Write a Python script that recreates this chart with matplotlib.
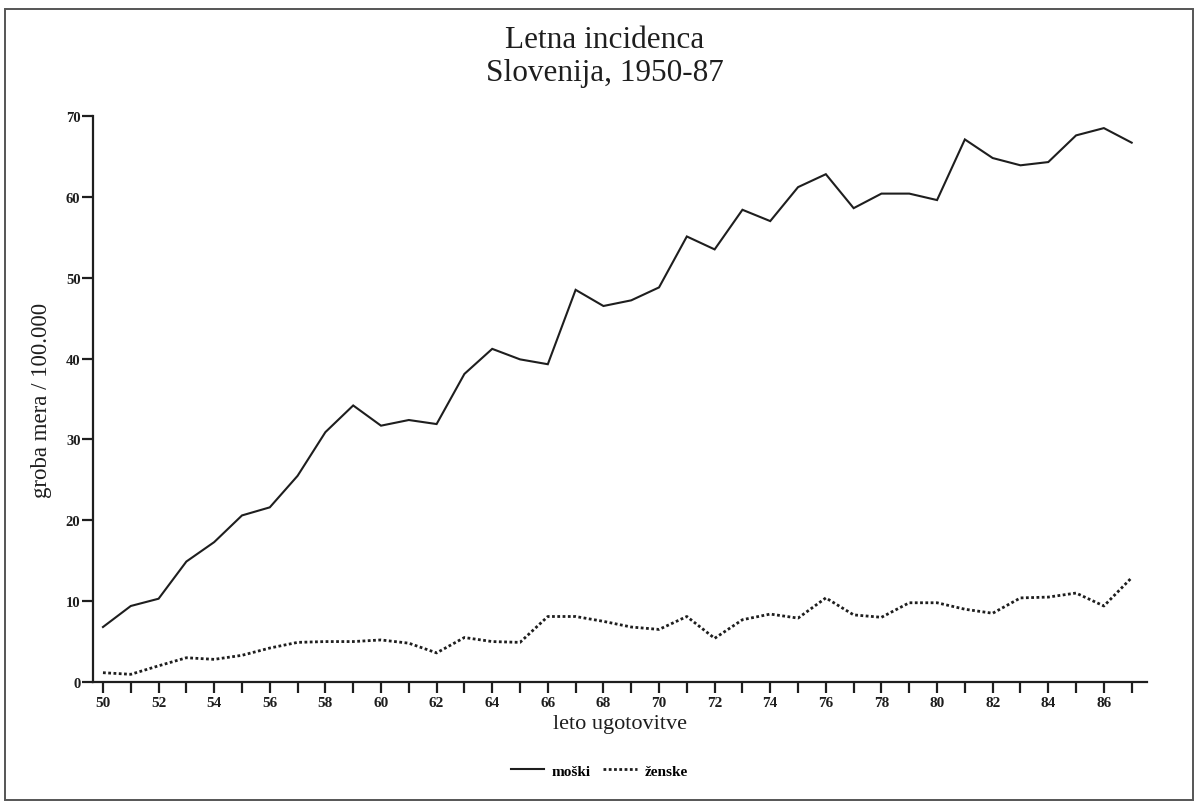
import matplotlib
matplotlib.use("Agg")
import matplotlib.pyplot as plt
from matplotlib.patches import Rectangle
from matplotlib.lines import Line2D
import numpy as np

plt.rcParams['font.family'] = ['Liberation Serif', 'DejaVu Serif']

# incidence per 100.000, 1950-1987
years = np.arange(1950, 1988)
moski = [6.8, 9.4, 10.3, 14.9, 17.3, 20.6, 21.6, 25.5, 30.9, 34.2,
         31.7, 32.4, 31.9, 38.1, 41.2, 39.9, 39.3, 48.5, 46.5, 47.2,
         48.8, 55.1, 53.5, 58.4, 57.0, 61.2, 62.8, 58.6, 60.4, 60.4,
         59.6, 67.1, 64.8, 63.9, 64.3, 67.6, 68.5, 66.7]
zenske = [1.15, 0.95, 2.0, 3.0, 2.8, 3.3, 4.2, 4.9, 5.0, 5.0,
          5.2, 4.8, 3.6, 5.5, 5.0, 4.9, 8.1, 8.1, 7.5, 6.8,
          6.5, 8.1, 5.4, 7.7, 8.4, 7.9, 10.4, 8.3, 8.0, 9.8,
          9.8, 9.0, 8.5, 10.4, 10.5, 11.0, 9.4, 12.9]

ink = '#1e1e1e'
dotted = (0, (1.0, 0.9))

fig = plt.figure(figsize=(11.98, 8.04), dpi=100)
ax = fig.add_axes([0.0776, 0.1505, 0.8798, 0.704])

ax.plot(years, moski, color=ink, lw=1.5, solid_joinstyle='miter')
ax.plot(years, zenske, color=ink, lw=2.0, linestyle=dotted)

ax.set_xlim(1949.64, 1987.55)
ax.set_ylim(0, 70)

for s in ['top', 'right']:
    ax.spines[s].set_visible(False)
for s in ['left', 'bottom']:
    ax.spines[s].set_linewidth(1.6)
    ax.spines[s].set_color(ink)

ax.set_yticks(np.arange(0, 71, 10))
ax.set_xticks(years[::2])
ax.set_xticks(years[1::2], minor=True)
ax.set_xticklabels([str(y % 100) for y in years[::2]])
ax.tick_params(axis='both', which='both', direction='out', length=8,
               width=1.6, color=ink, labelcolor=ink)
ax.tick_params(axis='y', pad=1, labelsize=10.5)
ax.tick_params(axis='x', pad=2, labelsize=11)
for lab in ax.get_yticklabels() + ax.get_xticklabels():
    lab.set_fontweight('bold')

ax.set_xlabel('leto ugotovitve', fontsize=16, color=ink, labelpad=4)
ax.set_ylabel('groba mera / 100.000', fontsize=16.5, color=ink, labelpad=10)

fig.text(0.505, 0.968, 'Letna incidenca\nSlovenija, 1950-87', ha='center',
         va='top', fontsize=22.5, color=ink, linespacing=1.18)

handles = [Line2D([], [], color=ink, lw=1.5),
           Line2D([], [], color=ink, lw=2.0, linestyle=dotted)]
fig.legend(handles, ['moški', 'ženske'], loc='center',
           bbox_to_anchor=(0.5, 0.04), ncol=2, frameon=False,
           handlelength=2.2, handletextpad=0.5, columnspacing=0.8,
           prop={'size': 11, 'weight': 'bold'})

# page frame
fig.patches.append(Rectangle((0.004, 0.004), 0.992, 0.983, transform=fig.transFigure,
                             fill=False, edgecolor='#555555', lw=1.4))

fig.savefig('out.png', dpi=100)
